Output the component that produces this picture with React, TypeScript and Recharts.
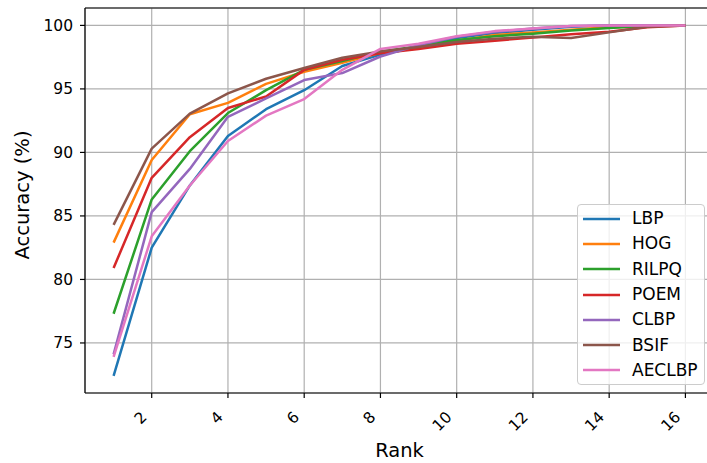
import { CartesianGrid, Label, Legend, Line, LineChart, ReferenceLine, XAxis, YAxis } from 'recharts'

const ranks = [1, 2, 3, 4, 5, 6, 7, 8, 9, 10, 11, 12, 13, 14, 15, 16]
const rankTicks = [2, 4, 6, 8, 10, 12, 14, 16]
const accuracyTicks = [75, 80, 85, 90, 95, 100]

const lbp = [72.4, 82.5, 87.4, 91.3, 93.4, 94.9, 96.8, 97.7, 98.3, 99.0, 99.4, 99.65, 99.9, 100, 100, 100]
const hog = [82.9, 89.4, 93.0, 93.9, 95.4, 96.35, 97.05, 97.85, 98.3, 98.8, 99.25, 99.45, 99.65, 99.85, 99.95, 100]
const rilpq = [77.3, 86.3, 90.1, 93.1, 94.9, 96.5, 97.2, 97.95, 98.35, 98.85, 99.15, 99.35, 99.6, 99.8, 99.95, 100]
const poem = [80.9, 88.0, 91.2, 93.5, 94.4, 96.5, 97.3, 97.8, 98.15, 98.55, 98.8, 99.05, 99.3, 99.5, 99.85, 100]
const clbp = [74.1, 85.3, 88.7, 92.8, 94.25, 95.7, 96.25, 97.55, 98.45, 99.1, 99.5, 99.75, 99.95, 100, 100, 100]
const bsif = [84.3, 90.3, 93.05, 94.65, 95.8, 96.65, 97.45, 97.95, 98.3, 98.7, 98.95, 99.1, 99.0, 99.45, 99.9, 100]
const aeclbp = [73.9, 83.4, 87.4, 90.9, 92.9, 94.2, 96.5, 98.15, 98.55, 99.15, 99.55, 99.75, 99.95, 100, 100, 100]

const series = [
  { key: 'LBP', values: lbp, color: '#1f77b4' },
  { key: 'HOG', values: hog, color: '#ff7f0e' },
  { key: 'RILPQ', values: rilpq, color: '#2ca02c' },
  { key: 'POEM', values: poem, color: '#d62728' },
  { key: 'CLBP', values: clbp, color: '#9467bd' },
  { key: 'BSIF', values: bsif, color: '#8c564b' },
  { key: 'AECLBP', values: aeclbp, color: '#e377c2' },
]
const seriesOrder = series.map(s => s.key)

const data = ranks.map((rank, i) => {
  const row: Record<string, number> = { rank }
  series.forEach(s => {
    row[s.key] = s.values[i]
  })
  return row
})

const FONT = '"DejaVu Sans", sans-serif'
const Y_MIN = 71.06
const Y_MAX = 101.37

function RankTick({ x, y, payload }: any) {
  const tx = x - 4
  const ty = y + 18
  return (
    <text x={tx} y={ty} transform={`rotate(-45 ${tx} ${ty})`} textAnchor="end" fontSize={15.5} fontFamily={FONT} fill="#000">
      {payload.value}
    </text>
  )
}

function LegendBox({ payload }: any) {
  // keep the plotting order, not the alphabetical one
  const items = [...(payload || [])].sort(
    (a: any, b: any) => seriesOrder.indexOf(a.value) - seriesOrder.indexOf(b.value),
  )
  return (
    <div
      style={{
        boxSizing: 'border-box',
        width: 128,
        height: 181,
        paddingTop: 1,
        background: 'rgba(255,255,255,0.8)',
        border: '1px solid #cccccc',
        borderRadius: 4,
        fontFamily: FONT,
        fontSize: 17,
        color: '#000',
      }}
    >
      {items.map((entry: any) => (
        <div key={entry.value} style={{ display: 'flex', alignItems: 'center', height: 25.3 }}>
          <svg width={37} height={4} style={{ marginLeft: 5, marginRight: 12, flexShrink: 0 }}>
            <line x1={0} y1={2} x2={37} y2={2} stroke={entry.color} strokeWidth={2.6} />
          </svg>
          <span style={{ lineHeight: 1 }}>{entry.value}</span>
        </div>
      ))}
    </div>
  )
}

export default function App() {
  return (
    <div style={{ position: 'absolute', left: 0, top: 0, width: 707, height: 463, overflow: 'hidden', background: '#fff' }}>
      <LineChart width={714} height={463} data={data} margin={{ top: 8, right: 0, bottom: 0, left: 0 }}>
        <CartesianGrid stroke="#b0b0b0" strokeWidth={1.2} />
        <XAxis
          dataKey="rank"
          type="number"
          domain={[0.25, 16.75]}
          ticks={rankTicks}
          height={70}
          tickSize={5}
          tick={<RankTick />}
          tickLine={{ stroke: '#000', strokeWidth: 1.2 }}
          axisLine={{ stroke: '#000', strokeWidth: 1.2 }}
          allowDataOverflow
        >
          <Label
            content={({ viewBox }: any) => (
              <text
                x={viewBox.x + viewBox.width / 2}
                y={viewBox.y + 63.5}
                textAnchor="middle"
                fontSize={19.5}
                fontFamily={FONT}
                fill="#000"
              >
                Rank
              </text>
            )}
          />
        </XAxis>
        <YAxis
          type="number"
          domain={[Y_MIN, Y_MAX]}
          ticks={accuracyTicks}
          width={85}
          tickSize={5}
          tickMargin={7}
          tick={{ fontSize: 15.5, fontFamily: FONT, fill: '#000' }}
          tickLine={{ stroke: '#000', strokeWidth: 1.2 }}
          axisLine={{ stroke: '#000', strokeWidth: 1.2 }}
          allowDataOverflow
        >
          <Label
            content={() => (
              <text
                x={29}
                y={195}
                transform="rotate(-90 29 195)"
                textAnchor="middle"
                fontSize={19.5}
                fontFamily={FONT}
                fill="#000"
              >
                Accuracy (%)
              </text>
            )}
          />
        </YAxis>
        <ReferenceLine y={Y_MAX} stroke="#000" strokeWidth={1.2} />
        <ReferenceLine x={16.75} stroke="#000" strokeWidth={1.2} />
        {series.map(s => (
          <Line
            key={s.key}
            dataKey={s.key}
            name={s.key}
            stroke={s.color}
            strokeWidth={2.5}
            strokeLinejoin="round"
            dot={false}
            isAnimationActive={false}
          />
        ))}
        <Legend
          layout="vertical"
          align="center"
          verticalAlign="middle"
          content={<LegendBox />}
          wrapperStyle={{ position: 'absolute', left: 577, top: 204, width: 128, height: 181 }}
        />
      </LineChart>
    </div>
  )
}
